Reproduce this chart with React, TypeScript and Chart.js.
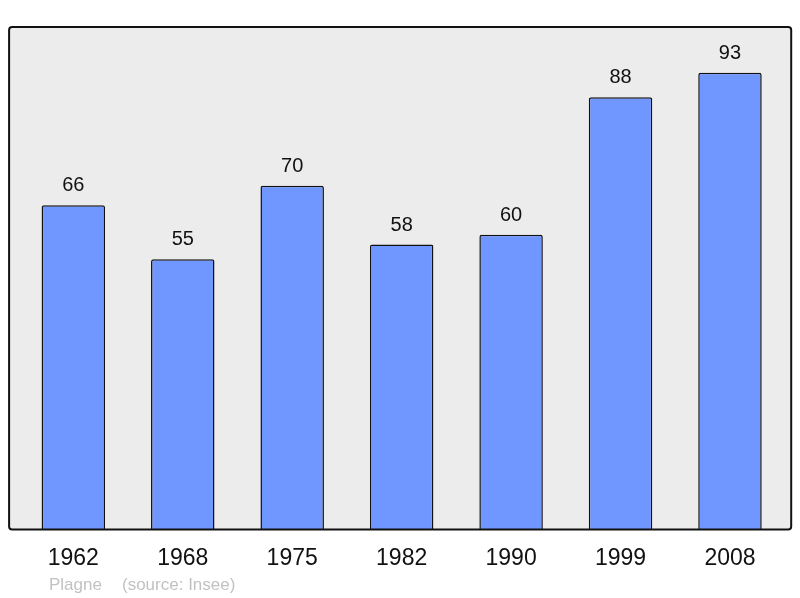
import React, { useEffect, useRef } from "react";
import { Chart, registerables } from "chart.js";

Chart.register(...registerables);

const years = ["1962", "1968", "1975", "1982", "1990", "1999", "2008"];
const population = [66, 55, 70, 58, 60, 88, 93];
const footerName = "Plagne";
const footerSource = "(source: Insee)";

const FONT = "'Liberation Sans', Arial, sans-serif";

const framePlugin = {
  id: "frame",
  beforeDatasetsDraw(chart: any) {
    const { ctx, chartArea } = chart;
    const x = chartArea.left - 9.5;
    const y = chartArea.top;
    const w = chartArea.right + 6.5 - x;
    const h = chartArea.bottom - y;
    ctx.save();
    ctx.fillStyle = "#ececec";
    ctx.beginPath();
    (ctx as any).roundRect(x, y, w, h, 3);
    ctx.fill();
    ctx.restore();
  },
  afterDatasetsDraw(chart: any) {
    const { ctx, chartArea } = chart;
    const x = chartArea.left - 9.5;
    const y = chartArea.top;
    const w = chartArea.right + 6.5 - x;
    const h = chartArea.bottom - y;
    ctx.save();
    ctx.strokeStyle = "#111";
    ctx.lineWidth = 2;
    ctx.beginPath();
    (ctx as any).roundRect(x, y, w, h, 3);
    ctx.stroke();

    // value labels
    const meta = chart.getDatasetMeta(0);
    ctx.fillStyle = "#111";
    ctx.font = `20px ${FONT}`;
    ctx.textAlign = "center";
    ctx.textBaseline = "alphabetic";
    meta.data.forEach((bar: any, i: number) => {
      ctx.fillText(String(population[i]), bar.x, bar.y - 14);
    });

    // footer
    ctx.fillStyle = "#c2c2c2";
    ctx.font = `17px ${FONT}`;
    ctx.textAlign = "left";
    ctx.fillText(footerName, 49, 590);
    ctx.fillText(footerSource, 122, 590);
    ctx.restore();
  },
};

export default function App() {
  const ref = useRef<HTMLCanvasElement | null>(null);
  useEffect(() => {
    if (!ref.current) return;
    const chart = new Chart(ref.current, {
      type: "bar",
      data: {
        labels: years,
        datasets: [
          {
            data: population,
            backgroundColor: "#7097ff",
            borderColor: "#111",
            borderWidth: 1.5,
            borderRadius: 2,
            borderSkipped: "bottom",
            barPercentage: 0.58,
            categoryPercentage: 1,
          },
        ],
      },
      options: {
        animation: false,
        responsive: false,
        maintainAspectRatio: false,
        layout: { padding: { left: 18.6, right: 15.3, top: 27, bottom: 11 } },
        plugins: {
          legend: { display: false },
          tooltip: { enabled: false },
          title: { display: false },
        },
        scales: {
          x: {
            grid: { display: false, drawTicks: false },
            border: { display: false },
            ticks: {
              color: "#111",
              font: { size: 23, family: FONT },
              padding: 15,
              maxRotation: 0,
            },
          },
          y: {
            display: false,
            min: 0,
            max: 102.3,
          },
        },
      },
      plugins: [framePlugin],
    });
    return () => chart.destroy();
  }, []);
  return (
    <canvas
      ref={ref}
      width={800}
      height={598}
      style={{ position: "absolute", left: 0, top: 0, display: "block" }}
    />
  );
}
